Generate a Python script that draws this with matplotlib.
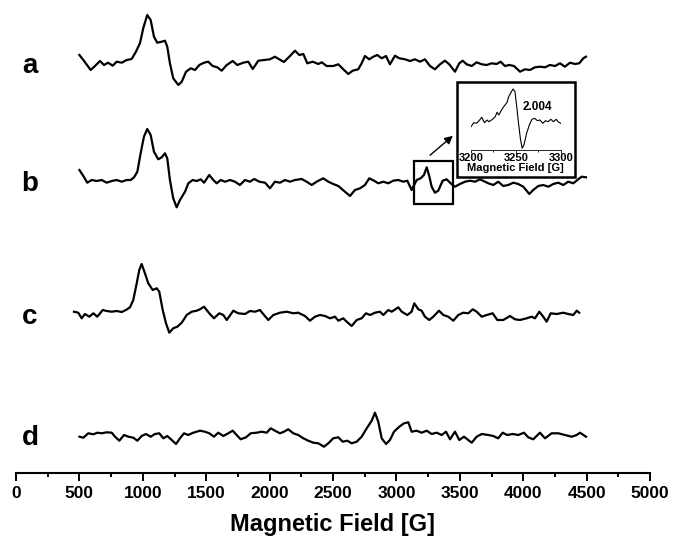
import matplotlib
matplotlib.use("Agg")
import matplotlib.pyplot as plt
from matplotlib.patches import Rectangle
from matplotlib.ticker import MultipleLocator

plt.rcParams['font.family'] = ['Liberation Sans', 'DejaVu Sans']
plt.rcParams['font.weight'] = 'bold'

# EPR spectra, field in G, intensity in arbitrary units (relative to each baseline)
field_a = [500, 531, 589, 623, 662, 694, 726, 763, 794, 834, 873, 912, 946, 978, 1004, 1035,
           1062, 1088, 1114, 1149, 1175, 1193, 1214, 1240, 1280, 1307, 1341, 1378, 1412, 1446,
           1483, 1516, 1551, 1587, 1622, 1662, 1709, 1745, 1792, 1832, 1867, 1911, 1956, 2003,
           2042, 2076, 2113, 2161, 2200, 2234, 2266, 2297, 2340, 2384, 2411, 2450, 2502, 2542,
           2581, 2621, 2655, 2699, 2726, 2752, 2786, 2818, 2849, 2884, 2918, 2949, 2989, 3023,
           3068, 3107, 3147, 3186, 3225, 3265, 3304, 3344, 3383, 3417, 3462, 3496, 3523, 3554,
           3594, 3633, 3673, 3712, 3751, 3791, 3822, 3856, 3890, 3927, 3975, 4014, 4053, 4093,
           4132, 4172, 4211, 4251, 4290, 4329, 4369, 4408, 4442, 4474, 4495]
int_a = [8, 3, -7, -3, 2, -2, 0.3, -2.7, 1.3, 0.3, 3, 4, 11.3, 20, 35, 48,
         43, 26.3, 20.3, 21.3, 22.3, 16.3, -0.3, -15.3, -22, -18.7, -8.7, -5.3, -7, -2,
         0.3, 1.3, -3, -4.3, -7.7, -2, 2, -2, 0.3, 1.3, -6, 2.3, 3, 3.7,
         6.3, 3.7, 1, 7, 12.3, 8, 9, -0.3, 1.3, -1, 0.7, -3, -3, -1.3,
         -6.3, -11, -7.7, -6.3, -0.3, 7, 3.7, 6.3, 8, 4.7, 7, -1.3, 7.3, 4.7,
         3.7, 2, 3.7, 1.3, 3.7, -3, -6.3, -1.3, 2.3, -1.3, -8.7, -0.3, 2.3, -1.3,
         -3, 0.7, -1.3, -2, -0.3, -1, 1.3, -3, -2, -3, -8.7, -6.3, -7, -4.3,
         -3.7, -4.3, -2, -3, -0.3, -3.7, 0.3, -1, -0.3, 4.7, 6.3]

field_b = [500, 531, 562, 597, 636, 676, 715, 755, 794, 834, 873, 905, 931, 957, 983, 1009,
           1035, 1062, 1088, 1122, 1149, 1175, 1193, 1214, 1240, 1267, 1293, 1333, 1359, 1393,
           1425, 1457, 1483, 1524, 1556, 1583, 1614, 1648, 1688, 1727, 1766, 1806, 1845, 1879,
           1919, 1964, 2003, 2042, 2082, 2121, 2161, 2200, 2253, 2292, 2332, 2371, 2423, 2463,
           2502, 2542, 2594, 2634, 2673, 2713, 2752, 2786, 2823, 2857, 2897, 2936, 2975, 3015,
           3054, 3086, 3120, 3160, 3191, 3217, 3239, 3259, 3278, 3304, 3330, 3365, 3396, 3428,
           3462, 3501, 3541, 3580, 3620, 3659, 3699, 3725, 3764, 3803, 3843, 3882, 3922, 3961,
           4001, 4048, 4079, 4119, 4158, 4198, 4237, 4277, 4316, 4355, 4395, 4434, 4461, 4495]
int_b = [11, 5, -1.7, 1, 0, 1, -1.7, 0, 1, -0.7, 1, 1, 3.7, 9.3, 27.7, 44.3,
         52, 46, 29.3, 21.7, 23.7, 27.7, 22.7, 1, -17.3, -26.3, -19, -10.7, -2.3, 1,
         0, 1.7, -1.7, 6, 1, -2.3, 1, -0.7, 1, -0.7, -4, 1, -0.7, 2,
         -0.7, -1.7, -7.3, -0.7, -1.7, 1, -0.7, 1, 2, -0.7, -4, -0.7, 2.7, -0.7,
         -3, -5, -10.7, -15, -9, -7.3, -4, 2.7, 0.3, -2.3, -0.7, -2.3, 0.3, 1,
         -0.7, 0.3, -9, 1, 2.7, 6, 13.7, 5, -5.7, -11.7, -9.7, 0.3, 1.7, -2.3,
         -5.7, -3, -0.7, 0.3, -0.7, 1.7, -0.7, -2.3, -4, -0.7, -5, -4, -1.7, -3,
         -5.7, -13, -9, -5, -4, -5.7, -3, -1.7, -4, -0.7, -2.3, 1.7, 4.3, 3.7]

field_c = [457, 491, 518, 544, 578, 610, 641, 684, 715, 755, 794, 834, 867, 899, 925, 952,
           972, 991, 1017, 1043, 1078, 1110, 1130, 1157, 1183, 1209, 1240, 1272, 1307, 1346,
           1386, 1425, 1451, 1483, 1524, 1561, 1603, 1635, 1662, 1714, 1753, 1806, 1845, 1885,
           1924, 1956, 1990, 2029, 2082, 2135, 2187, 2226, 2279, 2318, 2358, 2397, 2437, 2476,
           2516, 2542, 2581, 2608, 2647, 2687, 2726, 2760, 2792, 2831, 2870, 2897, 2936, 2963,
           3015, 3042, 3086, 3120, 3141, 3173, 3199, 3225, 3259, 3291, 3336, 3370, 3409, 3449,
           3488, 3527, 3567, 3602, 3633, 3673, 3712, 3759, 3796, 3843, 3896, 3935, 3975, 4027,
           4067, 4093, 4127, 4158, 4185, 4217, 4264, 4316, 4355, 4395, 4422, 4442]
int_c = [2.3, 1.3, -4.3, 0, -2.7, 0.7, -2.7, 4, 3, 2.3, 3, 2, 4, 6.7, 14, 30.7,
         44, 50, 40.7, 30.7, 24, 25.7, 22.3, 4, -9.3, -18.7, -14.3, -12.7, -8.7, -1,
         2.3, 3.3, 4.7, 7.3, 0.7, -4.3, 0.7, -1, -6, 3.3, 0.7, 0, 3, 2.3,
         4, -1, -6, -1, 1.3, 2.3, 0.7, 1.3, -2, -6.7, -2.7, -1, -2, -4.3,
         -2.7, -6.7, -4.3, -7.7, -12, -6, -4.3, 0.7, -1, 1.3, 2.3, -1, 4, 2.3,
         6.7, 2.3, -1, 2.3, 10.7, 4.7, 3.3, -2.7, -6, -2.7, 3.3, -1, -2.7, -6.7,
         -1, 1.3, 0.7, 4.7, 2.3, -2.7, -1, 0.7, -6, -6, -2, -5.3, -6, -4.3,
         -2.7, -4.3, 2.3, -2.7, -7.7, 0.7, 0, 1.3, 0, -1, 3.3, 1.3]

field_d = [500, 531, 570, 610, 641, 676, 715, 755, 781, 815, 852, 886, 925, 957, 991, 1025,
           1062, 1096, 1130, 1162, 1193, 1228, 1262, 1293, 1325, 1359, 1398, 1451, 1490, 1524,
           1561, 1595, 1635, 1674, 1709, 1740, 1772, 1814, 1851, 1898, 1938, 1977, 2009, 2042,
           2082, 2113, 2147, 2187, 2226, 2266, 2305, 2345, 2384, 2429, 2463, 2502, 2542, 2576,
           2613, 2647, 2687, 2726, 2766, 2805, 2831, 2857, 2884, 2918, 2949, 2981, 3023, 3060,
           3094, 3120, 3160, 3199, 3239, 3278, 3318, 3357, 3391, 3423, 3462, 3496, 3533, 3594,
           3633, 3673, 3725, 3764, 3803, 3838, 3874, 3917, 3961, 4006, 4040, 4079, 4132, 4172,
           4224, 4277, 4329, 4382, 4422, 4448, 4495]
int_d = [-1.7, -2.7, 1.7, 0.7, 2.3, 1.7, 2.7, 2.3, -1.7, -5.7, 0, -1.7, -2.7, -5.7, -1, 1,
         -1.7, 1, 1.7, -3.3, -1, -5, -9, -3.3, 1.7, 0, 2.3, 4.3, 3.3, 1.7,
         -1.7, 2.3, -1, 1.7, 4.3, 0, -4.3, -2.3, 1.7, 2.3, 3.3, 2.3, 6.7, 4.3,
         1.7, 3.3, 5.7, 1.7, 0, -3.3, -5.7, -7.7, -8.3, -11.7, -8.3, -3.3, -2.3, -6.7,
         -5.7, -8.3, -6.7, -1.7, 6.7, 14.3, 22.3, 13.3, -3.3, -9, -5, 3.3, 8.3, 11.7,
         12.7, 3.3, 4.3, 2.3, 4.3, 1, 2.3, 0, 3.3, -4.3, 3.3, -5, -1.7, -7.7,
         -1.7, 1, 0, -1, -3.3, 2.3, 0, 1, 0, 2.3, -2.3, -4.3, 2.3, -3.3,
         1.7, 1.7, 0, -1.7, 0, 2.3, -1.7]

# zoomed region of spectrum b (g = 2.004)
field_zoom = [3200, 3203, 3206, 3209, 3212, 3215, 3218, 3220, 3224, 3227, 3229, 3231, 3234,
              3237, 3240, 3242, 3245, 3247, 3249, 3251, 3253, 3255, 3257, 3259, 3262, 3265,
              3268, 3271, 3274, 3277, 3280, 3283, 3286, 3289, 3292, 3295, 3297, 3300]
int_zoom = [-5.7, -1.7, -2.3, 0.3, 3.7, -1.7, 1, -0.7, 1.7, 4.3, 8.7, 6, 11,
            15, 18.3, 24.3, 29.3, 32, 29.3, 14.3, -2.3, -17.3, -27.3, -24, -12.3, -4,
            1.7, 2.7, 0.3, 1, -2.3, 0.3, -0.7, 1.7, -0.7, 1.7, -0.7, -2.3]

labels = ['a', 'b', 'c', 'd']
offsets = [410, 292, 159, 38]
fields = [field_a, field_b, field_c, field_d]
ints = [int_a, int_b, int_c, int_d]

W, H = 673, 545
fig = plt.figure(figsize=(W / 100, H / 100), dpi=100)
ax = fig.add_axes([16 / W, (H - 473) / H, 634 / W, 473 / H])

for lab, off, xs, ys in zip(labels, offsets, fields, ints):
    ax.plot(xs, [off + v for v in ys], color='black', lw=1.6)
    ax.text(110, off - 3, lab, fontsize=20, fontweight='bold', ha='center', va='center')

ax.set_xlim(0, 5000)
ax.set_ylim(0, 473)
ax.xaxis.set_major_locator(MultipleLocator(500))
ax.xaxis.set_minor_locator(MultipleLocator(250))
ax.tick_params(axis='x', which='major', length=6, width=1.4, labelsize=12.5, pad=3)
ax.tick_params(axis='x', which='minor', length=3, width=1.4)
for s in ['top', 'right', 'left']:
    ax.spines[s].set_visible(False)
ax.spines['bottom'].set_linewidth(1.5)
ax.set_yticks([])
for t in ax.get_xticklabels():
    t.set_fontweight('bold')
ax.set_xlabel('Magnetic Field [G]', fontsize=17, fontweight='bold', labelpad=9)

# box around the g = 2.004 feature and arrow to the inset
ax.add_patch(Rectangle((3139, 269), 3446 - 3139, 312 - 269, fill=False, lw=1.6, ec='black'))
ax.annotate('', xy=(3462, 339), xytext=(3249, 316),
            arrowprops=dict(arrowstyle='-|>', color='black', lw=1.0, mutation_scale=12))

# inset frame
fig.patches.append(Rectangle((457 / W, (H - 177) / H), (575 - 457) / W, (177 - 82) / H,
                             transform=fig.transFigure, fill=False, lw=1.8, ec='black'))

ins = fig.add_axes([471 / W, (H - 150) / H, (560.7 - 471) / W, 64 / H])
ins.plot(field_zoom, int_zoom, color='black', lw=0.8)
ins.set_xlim(3200, 3300)
ins.set_ylim(-29, 35)
ins.xaxis.set_major_locator(MultipleLocator(50))
ins.xaxis.set_minor_locator(MultipleLocator(25))
ins.tick_params(axis='x', which='major', length=2, width=0.6, labelsize=8, pad=0.5)
ins.tick_params(axis='x', which='minor', length=1.5, width=0.6)
for s in ['top', 'right', 'left']:
    ins.spines[s].set_visible(False)
ins.spines['bottom'].set_linewidth(0.6)
ins.set_yticks([])
ins.patch.set_alpha(0)
for t in ins.get_xticklabels():
    t.set_fontweight('bold')
ins.set_xlabel('Magnetic Field [G]', fontsize=8, fontweight='bold', labelpad=-0.5)
ins.text(3258, 14, '2.004', fontsize=8.5, fontweight='bold', ha='left', va='center')

fig.savefig('out.png', dpi=100)
